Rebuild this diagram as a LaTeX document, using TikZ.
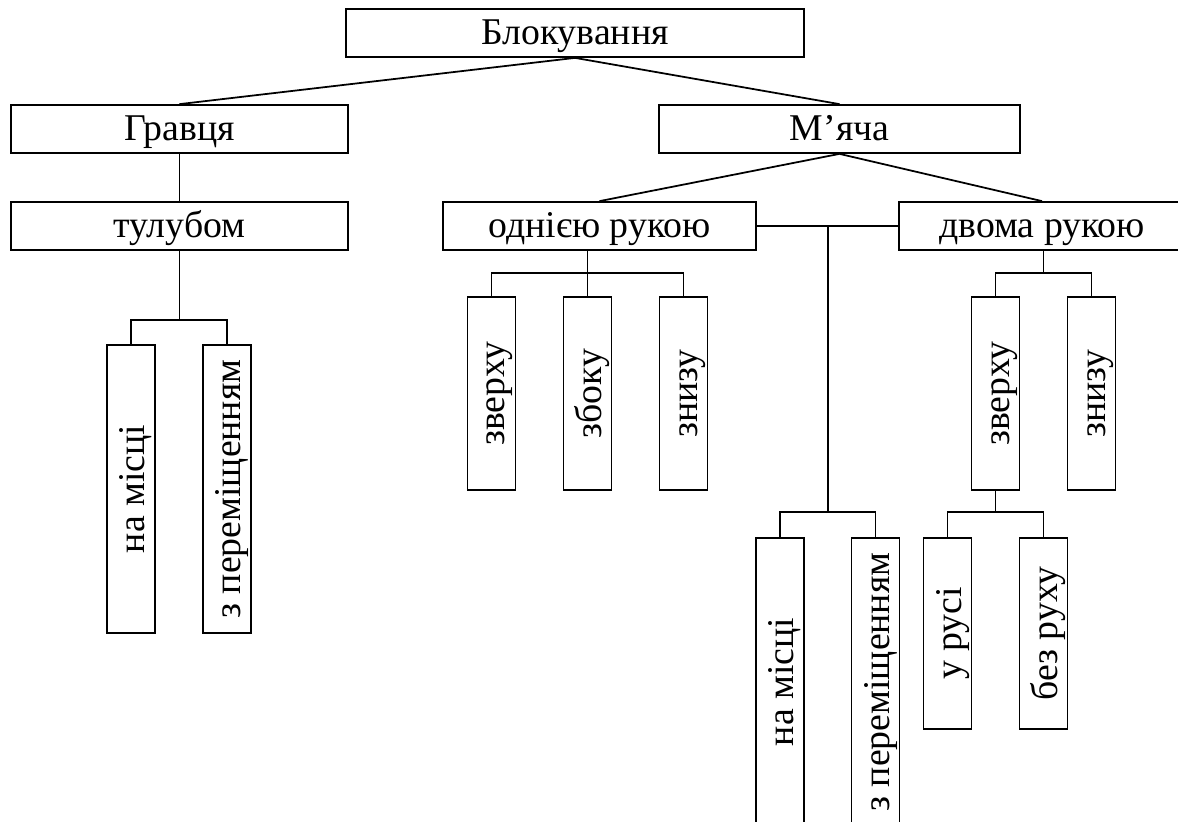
\documentclass[tikz,border=0pt]{standalone}
\usepackage{fontspec}
\setmainfont{Liberation Serif}
\usetikzlibrary{calc}
\begin{document}
\begin{tikzpicture}[x=0.02cm, y=-0.02cm, line width=1pt,
  font=\fontsize{21.5}{25}\selectfont,
  hbox/.style={draw, rectangle, inner sep=0, minimum height=0.96cm, text height=0.46cm, text depth=0cm},
  vbox/.style={draw, rectangle, rotate=90, inner sep=0, minimum height=0.96cm, text height=0.54cm, text depth=0cm}]
\useasboundingbox (0,0) rectangle (1178,822);
\clip (0,0) rectangle (1178,822);
% top levels
\node[hbox, minimum width=9.16cm] (blk) at (575,33) {Блокування};
\node[hbox, minimum width=6.74cm] (gr) at (179.5,129) {Гравця};
\node[hbox, minimum width=7.22cm] (mya) at (839.5,129) {М’яча};
\node[hbox, minimum width=6.74cm] (tul) at (179.5,226) {тулубом};
\node[hbox, minimum width=6.26cm] (odn) at (599.5,226) {однією рукою};
\node[hbox, minimum width=5.72cm] (dvo) at (1042,226) {двома рукою};
% vertical boxes
\node[vbox, minimum width=5.76cm] (tm1) at (131,489) {на місці};
\node[vbox, minimum width=5.76cm] (tm2) at (227,489) {з переміщенням};
\node[vbox, minimum width=3.86cm] (oz1) at (491.5,393.5) {зверху};
\node[vbox, minimum width=3.86cm] (oz2) at (587.5,393.5) {збоку};
\node[vbox, minimum width=3.86cm] (oz3) at (683.5,393.5) {знизу};
\node[vbox, minimum width=3.86cm] (dz1) at (995.5,393.5) {зверху};
\node[vbox, minimum width=3.86cm] (dz2) at (1091.5,393.5) {знизу};
\node[vbox, minimum width=5.76cm] (mm1) at (780,682) {на місці};
\node[vbox, minimum width=5.76cm] (mm2) at (875.5,682) {з переміщенням};
\node[vbox, minimum width=3.82cm] (rs1) at (947.5,633.5) {у русі};
\node[vbox, minimum width=3.82cm] (rs2) at (1043.5,633.5) {без руху};
% links
\draw (blk.south) -- (gr.north);
\draw (blk.south) -- (mya.north);
\draw (gr.south) -- (tul.north);
\draw (mya.south) -- (odn.north);
\draw (mya.south) -- (dvo.north);
\draw (odn.east) -- (dvo.west);
% forks
\draw (tm1.east) -- ++(0,-24) coordinate (f1) -| (tm2.east);
\draw (tul.south) -- (tul.south |- f1);
\draw (oz1.east) -- ++(0,-23) -| (oz3.east);
\draw (odn.south -| oz2.east) -- (oz2.east);
\draw (dz1.east) -- ++(0,-23) coordinate (f3) -| (dz2.east);
\coordinate (f3m) at ($(f3)!.5!(f3 -| dz2.east)$);
\draw (f3m) -- (f3m |- dvo.south);
\draw (mm1.east) -- ++(0,-25) coordinate (f4) -| (mm2.east);
\coordinate (f4m) at ($(f4)!.5!(f4 -| mm2.east)$);
\draw (f4m) -- (f4m |- odn.east);
\draw (rs1.east) -- ++(0,-25) coordinate (f5) -| (rs2.east);
\draw (dz1.west) -- (dz1.west |- f5);
\end{tikzpicture}
\end{document}
